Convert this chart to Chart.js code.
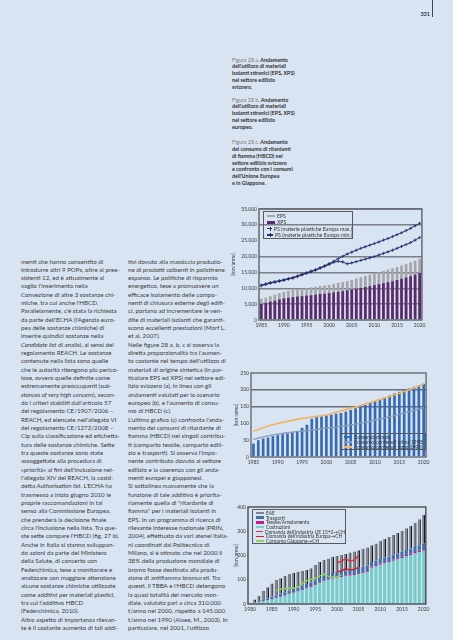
<!DOCTYPE html>
<html><head><meta charset="utf-8">
<script src="https://cdn.jsdelivr.net/npm/chart.js@4/dist/chart.umd.min.js"></script>
<style>
html,body{margin:0;padding:0;}
body{width:453px;height:640px;background:#d9e4f3;position:relative;overflow:hidden;font-family:Lato,"Liberation Sans",sans-serif;color:#333;}
.pn{position:absolute;top:11px;right:23px;font-size:5.5px;font-weight:bold;color:#333;}
.vl{position:absolute;left:432px;top:0;width:1px;height:17px;background:#444;}
.cap{position:absolute;left:232px;font-size:5.3px;line-height:6.75px;white-space:nowrap;font-weight:bold;color:#2e2e2e;}
.cap span{font-weight:normal;color:#7a7a7a;}
.col{position:absolute;top:257.5px;font-size:6.2px;line-height:8.33px;white-space:nowrap;color:#3a3a3a;transform-origin:0 0;}
canvas{position:absolute;}
.leg{position:absolute;border:1px solid #555a63;box-sizing:border-box;white-space:nowrap;color:#333;padding-left:3px;}
.leg div{display:flex;align-items:center;}
.sw{display:inline-block;margin-right:2px;}
</style></head>
<body>
<div class="vl"></div>
<div class="pn">331</div>

<div class="cap" style="top:56.6px"><span>Figura 28 a.</span> Andamento<br>dell'utilizzo di materiali<br>isolanti stirenici (EPS, XPS)<br>nel settore edilizio<br>svizzero.</div>
<div class="cap" style="top:96.6px"><span>Figura 28 b.</span> Andamento<br>dell'utilizzo di materiali<br>isolanti stirenici (EPS, XPS)<br>nel settore edilizio<br>europeo.</div>
<div class="cap" style="top:139.3px"><span>Figura 28 c.</span> Andamento<br>del consumo di ritardanti<br>di fiamma (HBCD) nel<br>settore edilizio svizzero<br>e confronto con i consumi<br>dell'Unione Europea<br>e in Giappone.</div>

<div class="col" id="c1" style="left:21px">menti che hanno consentito di<br>introdurre altri 9 POPs, oltre ai pree-<br>sistenti 12, ed è attualmente al<br>vaglio l'inserimento nella<br>Convezione di altre 3 sostanze chi-<br>miche, tra cui anche l'HBCD.<br>Parallelamente, c'è stata la richiesta<br>da parte dell'ECHA (l'Agenzia euro-<br>pea delle sostanze chimiche) di<br>inserire quindici sostanze nella<br><i>Candidate list</i> di analisi, ai sensi del<br>regolamento REACH. Le sostanze<br>contenute nella lista sono quelle<br>che le autorità ritengono più perico-<br>lose, ovvero quelle definite come<br>estremamente preoccupanti (<i>sub-</i><br><i>stances of very high concern</i>), secon-<br>do i criteri stabiliti dall'articolo 57<br>del regolamento CE/1907/2006 –<br>REACH, ed elencate nell'allegato VI<br>del regolamento CE/1272/2008 –<br>Clp sulla classificazione ed etichetta-<br>tura delle sostanze chimiche. Sette<br>tra queste sostanze sono state<br>assoggettate alla procedura di<br>«priorità» ai fini dell'inclusione nel-<br>l'allegato XIV del REACH, la cosid-<br>detta <i>Authorisation list</i>. L'ECHA ha<br>trasmesso a inizio giugno 2010 le<br>proprie raccomandazioni in tal<br>senso alla Commissione Europea,<br>che prenderà la decisione finale<br>circa l'inclusione nella lista. Tra que-<br>ste sette compare l'HBCD (fig. 27 b).<br>Anche in Italia si stanno sviluppan-<br>do azioni da parte del Ministero<br>della Salute, di concerto con<br>Federchimica, tese a monitorare e<br>analizzare con maggiore attenzione<br>alcune sostanze chimiche utilizzate<br>come additivi per materiali plastici,<br>tra cui l'additivo HBCD<br>(Federchimica, 2010).<br>Altro aspetto di importanza rilevan-<br>te è il costante aumento di tali addi-</div>

<div class="col" id="c2" style="left:128px">tivi dovuto alla massiccia produzio-<br>ne di prodotti coibenti in polistirene<br>espanso. Le politiche di risparmio<br>energetico, tese a promuovere un<br>efficace isolamento delle compo-<br>nenti di chiusura esterne degli edifi-<br>ci, portano ad incrementare le ven-<br>dite di materiali isolanti che garanti-<br>scono eccellenti prestazioni (Morf L.<br>et al, 2007).<br>Nelle figure 28 a, b, c si osserva la<br>diretta proporzionalità tra l'aumen-<br>to costante nel tempo dell'utilizzo di<br>materiali di origine sintetica (in par-<br>ticolare EPS ed XPS) nel settore edi-<br>lizio svizzero (a), in linea con gli<br>andamenti valutati per lo scenario<br>europeo (b), e l'aumento di consu-<br>mo di HBCD (c).<br>L'ultimo grafico (c) confronta l'anda-<br>mento dei consumi di ritardante di<br>fiamma (HBCD) nei singoli contribu-<br>ti (comparto tessile, comparto edili-<br>zio e trasporti). Si osserva l'impo-<br>nente contributo dovuto al settore<br>edilizio e la coerenza con gli anda-<br>menti europei e giapponesi.<br>Si sottolinea nuovamente che la<br>funzione di tale additivo è priorita-<br>riamente quella di "ritardante di<br>fiamma" per i materiali isolanti in<br>EPS. In un programma di ricerca di<br>rilevante interesse nazionale (PRIN,<br>2004), effettuato da vari atenei italia-<br>ni coordinati dal Politecnico di<br>Milano, si è stimato che nel 2000 il<br>38% della produzione mondiale di<br>bromo fosse destinata alla produ-<br>zione di antifiamma bromurati. Tra<br>questi, il TBBA e l'HBCD detengono<br>la quasi totalità del mercato mon-<br>diale, valutato pari a circa 310.000<br>t/anno nel 2000, rispetto a 145.000<br>t/anno nel 1990 (Alaee, M., 2003). In<br>particolare, nel 2001, l'utilizzo</div>

<canvas id="ch1" width="198" height="130" style="left:230px;top:204px"></canvas>
<canvas id="ch2" width="199" height="100" style="left:233px;top:368px"></canvas>
<canvas id="ch3" width="199" height="113" style="left:233px;top:502px"></canvas>

<div class="leg" id="leg1" style="left:263px;top:211px;width:90px;height:27.5px;font-size:5.2px;padding-top:1px"></div>
<div class="leg" id="leg2" style="left:340px;top:433px;width:86px;height:16.5px;font-size:4.8px;padding-top:0.5px"></div>
<div class="leg" id="leg3" style="left:252px;top:508.5px;width:94px;height:35px;font-size:4.8px;padding-top:1px"></div>

<script>
// ---------- Figura 28 a ----------
const years1 = ['1985','1986','1987','1988','1989','1990','1991','1992','1993','1994','1995','1996','1997','1998','1999','2000','2001','2002','2003','2004','2005','2006','2007','2008','2009','2010','2011','2012','2013','2014','2015','2016','2017','2018','2019','2020'];
const eps1 = [6700,7100,7500,8000,8500,8900,9200,9500,9700,9900,10100,10300,10500,10700,10900,11100,11400,11700,12000,12300,12700,13100,13500,13900,14300,14700,15100,15500,15900,16300,16700,17200,17700,18200,18700,19300];
const xps1 = [5100,5400,5800,6100,6500,6800,7000,7200,7400,7500,7700,7800,8000,8200,8300,8500,8700,8900,9100,9400,9700,9900,10100,10400,10700,11000,11300,11600,11900,12200,12600,13000,13400,13800,14300,14800];
const psMax1 = [11000,11400,11800,12100,12400,12700,13100,13400,13900,14400,14900,15400,15900,16500,17100,17800,18500,19300,20100,20800,21400,22000,22600,23100,23600,24100,24600,25200,25700,26300,26900,27500,28200,28900,29700,30500];
const psMin1 = [10800,11200,11600,11900,12200,12500,12900,13200,13700,14200,14700,15200,15700,16300,16900,17500,18200,18500,18300,17700,18000,18400,18800,19200,19600,20000,20500,21000,21500,22000,22600,23200,23800,24400,25200,26000];
const labels1 = ['EPS','XPS','PS (materie plastiche Europa max.)','PS (materie plastiche Europa min.)'];

// ---------- Figura 28 b ----------
const years2 = ['1985','1986','1987','1988','1989','1990','1991','1992','1993','1994','1995','1996','1997','1998','1999','2000','2001','2002','2003','2004','2005','2006','2007','2008','2009','2010','2011','2012','2013','2014','2015','2016','2017','2018','2019','2020'];
const stimato2 = [40,50,55,58,62,65,68,70,73,77,87,96,114,119,121,124,126,129,131,135,140,145,150,155,161,167,172,178,183,189,194,199,204,209,213,218];
const prima2 = [52,56,60,63,66,68,70,72,74,76,77,79,80,82,84,86,88,89,91,93,95,98,100,103,106,110,113,116,120,123,127,131,135,139,143,147];
const dopo2 = [77,82,87,92,96,100,103,106,109,112,115,117,119,121,123,125,129,133,137,141,145,149,153,158,162,167,171,176,180,185,190,195,200,205,211,217];
const labels2 = ['Consumo stimato','Consumo (contenuti prima 1998)','Consumo (contenuti dopo 1998)'];

// ---------- Figura 28 c ----------
const years3 = ['1980','1981','1982','1983','1984','1985','1986','1987','1988','1989','1990','1991','1992','1993','1994','1995','1996','1997','1998','1999','2000','2001','2002','2003','2004','2005','2006','2007','2008','2009','2010','2011','2012','2013','2014','2015','2016','2017','2018','2019','2020'];
const costruzioni3 = [2,4,7,10,14,19,24,29,34,40,46,52,58,64,70,78,86,94,100,104,108,111,114,117,120,123,127,131,150,156,162,167,172,178,184,190,196,202,208,214,220];
const tessile3 = [0,1,1,1,1,2,2,2,2,2,3,3,3,3,3,3,3,3,4,4,4,4,4,4,4,4,4,4,5,5,5,5,5,5,5,5,6,6,6,6,6];
const trasporti3 = [1,2,3,5,7,9,10,11,12,13,14,14,15,15,16,17,18,19,20,20,21,21,21,22,22,22,23,23,18,18,19,19,19,20,20,20,21,21,21,22,22];
const eae3 = [2,12,22,39,47,55,63,64,67,69,66,64,61,58,58,63,66,65,64,67,65,66,67,69,70,73,74,75,69,71,74,77,80,82,84,87,89,93,100,108,120];
const ue3 = [null,null,null,null,null,null,null,null,null,null,null,null,null,null,null,null,null,null,null,null,170,176,187,177,180,200,null,null,null,null,null,null,null,null,null,null,null,null,null,null,null];
const europa3 = [null,null,null,null,null,null,null,null,null,null,null,null,null,null,null,null,null,null,null,null,133,136,145,140,143,151,null,null,null,null,null,null,null,null,null,null,null,null,null,null,null];
const giappone3 = [null,null,null,null,null,null,55,61,63,65,65,69,85,96,101,106,115,124,115,110,112,119,null,null,null,null,null,null,null,null,null,null,null,null,null,null,null,null,null,null,null];
const labels3 = ['EAE','Trasporti','Tessile/Arredamento','Costruzioni','Domanda dell\u2019industria UE 15+2\u2192CH','Domanda dell\u2019industria Europa\u2192CH','Consumo Giappone\u2192CH'];

Chart.defaults.font.family = 'Lato, "Liberation Sans", sans-serif';
Chart.defaults.font.size = 5;
Chart.defaults.color = '#3a3a3a';

const framePlugin = {
  id: 'frame',
  afterDatasetsDraw(chart, args, opts) {
    const {ctx, chartArea: a} = chart;
    ctx.save();
    ctx.strokeStyle = opts.color || '#555';
    ctx.lineWidth = opts.width || 1;
    ctx.strokeRect(a.left, a.top, a.right - a.left, a.bottom - a.top);
    ctx.restore();
  }
};

function fmtThousands(v) {
  if (v === 0) return '0';
  return Math.floor(v / 1000) + '.' + String(v % 1000).padStart(3, '0');
}

function baseOptions(cfg) {
  return {
    responsive: false,
    animation: false,
    layout: {padding: {top: 5, right: 3, left: 0, bottom: 0}},
    plugins: {legend: {display: false}, tooltip: {enabled: false}, frame: cfg.frame},
    scales: {
      x: {
        stacked: cfg.stacked || false,
        grid: {display: false, drawTicks: false},
        border: {display: false},
        ticks: {autoSkip: false, maxRotation: 0, padding: 2.5, font: {size: 5},
          callback: function (val, i) { const l = this.getLabelForValue(val); return (+l % 5 === 0) ? l : ''; }},
        afterFit: s => { s.height = cfg.xh; }
      },
      y: {
        stacked: cfg.stacked || false,
        min: 0, max: cfg.max,
        border: {display: false},
        grid: {drawTicks: false, color: cfg.gridColor, lineWidth: cfg.gridWidth},
        ticks: {stepSize: cfg.step, padding: 2, font: {size: 5}, callback: cfg.tickFmt || (v => v)},
        title: {display: true, text: '[ton/anno]', padding: 0, font: {size: 5}},
        afterFit: s => { s.width = cfg.yw; }
      }
    }
  };
}

// Chart 1
const c1 = new Chart(document.getElementById('ch1'), {
  type: 'bar',
  plugins: [framePlugin],
  data: {
    labels: years1,
    datasets: [
      {type: 'line', label: labels1[2], data: psMax1, borderColor: '#2b2f6b', borderWidth: 1, pointStyle: 'cross', pointRadius: 1.6, pointBorderColor: '#2b2f6b', pointBorderWidth: 0.8, order: 0, tension: 0},
      {type: 'line', label: labels1[3], data: psMin1, borderColor: '#2b2f6b', borderWidth: 1, pointStyle: 'cross', pointRadius: 1.6, pointBorderColor: '#2b2f6b', pointBorderWidth: 0.8, order: 0, tension: 0},
      {label: labels1[1], data: xps1, backgroundColor: '#5a2a6c', grouped: false, barPercentage: 0.6, categoryPercentage: 1, order: 1},
      {label: labels1[0], data: eps1, backgroundColor: '#a4a6ab', grouped: false, barPercentage: 0.6, categoryPercentage: 1, order: 2}
    ]
  },
  options: baseOptions({max: 35000, step: 5000, yw: 29, xh: 14, tickFmt: fmtThousands,
    gridColor: c => (c.tick && c.tick.value === 25000) || c.tick.value === 0 ? 'rgba(0,0,0,0)' : '#7c7f87', gridWidth: 1.5,
    frame: {color: '#666a72', width: 1.5}})
});

// Chart 2
const c2 = new Chart(document.getElementById('ch2'), {
  type: 'bar',
  plugins: [framePlugin],
  data: {
    labels: years2,
    datasets: [
      {type: 'line', label: labels2[2], data: dopo2, borderColor: '#f1b466', borderWidth: 1.6, pointRadius: 0, order: 0},
      {type: 'line', label: labels2[1], data: prima2, borderColor: '#8c9bb4', borderWidth: 1.4, pointRadius: 0, order: 0},
      {label: labels2[0], data: stimato2, backgroundColor: '#376bb1', barPercentage: 0.55, categoryPercentage: 1, order: 1}
    ]
  },
  options: baseOptions({max: 250, step: 50, yw: 18, xh: 11,
    gridColor: c => (c.tick.value >= 150 && c.tick.value < 250) ? '#6b6f77' : 'rgba(0,0,0,0)', gridWidth: 1.5,
    frame: {color: '#5d6169', width: 1.3}})
});

// Chart 3
const c3 = new Chart(document.getElementById('ch3'), {
  type: 'bar',
  plugins: [framePlugin],
  data: {
    labels: years3,
    datasets: [
      {type: 'line', label: labels3[4], data: ue3, borderColor: '#d9313f', borderWidth: 1.5, pointRadius: 0, stack: 'l1', order: 0},
      {type: 'line', label: labels3[5], data: europa3, borderColor: '#d41f2b', borderWidth: 1.5, pointRadius: 0, stack: 'l2', order: 0},
      {type: 'line', label: labels3[6], data: giappone3, borderColor: '#8fd062', borderWidth: 1.5, pointRadius: 0, stack: 'l3', order: 0},
      {label: labels3[3], data: costruzioni3, backgroundColor: '#74cdc8', stack: 'b', barPercentage: 0.72, categoryPercentage: 1, order: 1},
      {label: labels3[2], data: tessile3, backgroundColor: '#c01d8c', stack: 'b', barPercentage: 0.72, categoryPercentage: 1, order: 1},
      {label: labels3[1], data: trasporti3, backgroundColor: '#4470a8', stack: 'b', barPercentage: 0.72, categoryPercentage: 1, order: 1},
      {label: labels3[0], data: eae3, backgroundColor: '#80848e', borderColor: '#17191e', borderWidth: {left: 0, right: 1.2, top: 0, bottom: 0}, borderSkipped: false, stack: 'b', barPercentage: 0.72, categoryPercentage: 1, order: 1}
    ]
  },
  options: baseOptions({max: 400, step: 100, yw: 15, xh: 11, stacked: true,
    gridColor: 'rgba(0,0,0,0)', gridWidth: 1,
    frame: {color: '#3c3f46', width: 1.3}})
});

// HTML legends built from the charts' datasets
function buildLegend(id, chart, order, rowH, withMarker) {
  const el = document.getElementById(id);
  order.forEach(lbl => {
    const ds = chart.data.datasets.find(d => d.label === lbl);
    const row = document.createElement('div');
    row.style.height = rowH + 'px';
    const sw = document.createElement('span');
    sw.className = 'sw';
    if (ds.type === 'line') {
      sw.style.width = '8px'; sw.style.height = '1.2px'; sw.style.background = ds.borderColor;
      if (withMarker) { sw.style.position = 'relative'; sw.innerHTML = '<span style="position:absolute;left:3.3px;top:-1.2px;width:1px;height:3.6px;background:' + ds.borderColor + '"></span>'; }
    } else {
      sw.style.width = '8px'; sw.style.height = '2.6px'; sw.style.background = ds.backgroundColor;
    }
    row.appendChild(sw);
    row.appendChild(document.createTextNode(lbl));
    el.appendChild(row);
  });
}
buildLegend('leg1', c1, labels1, 6.3, true);
buildLegend('leg2', c2, labels2, 5, false);
buildLegend('leg3', c3, labels3, 4.7, false);
</script>
</body></html>
